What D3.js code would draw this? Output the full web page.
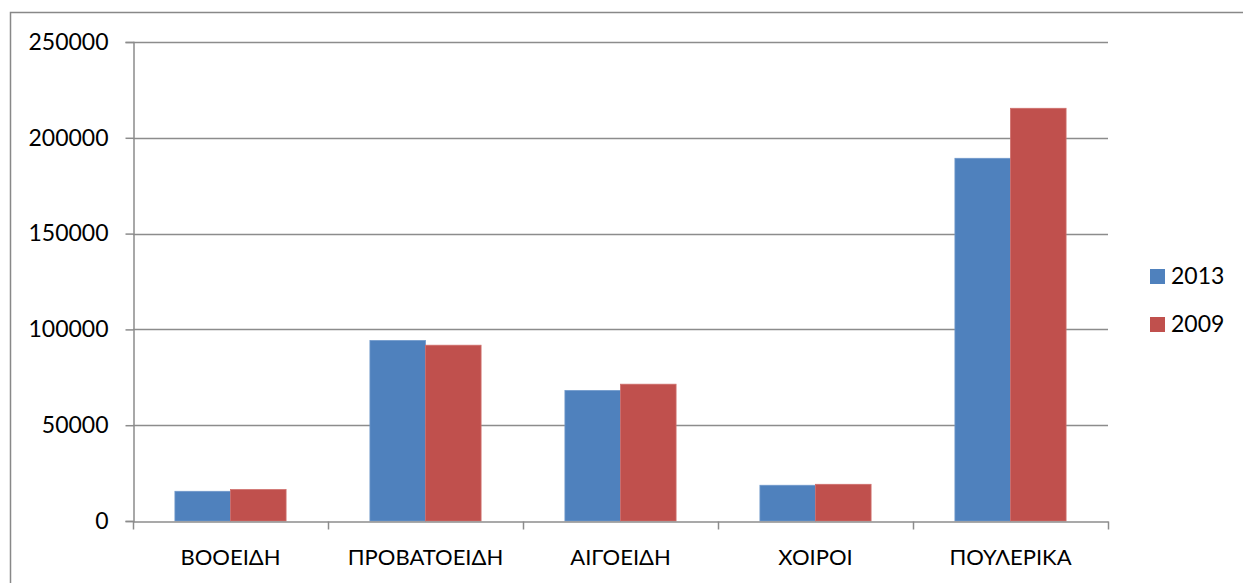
<!DOCTYPE html>
<html>
<head>
<meta charset="utf-8">
<script src="https://cdn.jsdelivr.net/npm/d3@7"></script>
<style>
    body { margin: 0; background: #fff; }
    svg { display: block; font-family: Lato, "Open Sans", sans-serif; }
</style>
</head>
<body>
<div class="main"></div>
<script>
const categories = ["ΒΟΟΕΙΔΗ", "ΠΡΟΒΑΤΟΕΙΔΗ", "ΑΙΓΟΕΙΔΗ", "ΧΟΙΡΟΙ", "ΠΟΥΛΕΡΙΚΑ"];
const seriesNames = ["2013", "2009"];
const values2013 = [15500, 94200, 68100, 18650, 189300];
const values2009 = [16400, 91750, 71400, 19150, 215400];
const yTicks = [0, 50000, 100000, 150000, 200000, 250000];

const colors = { "2013": "#4F81BD", "2009": "#C0504D" };
const strokes = { "2013": "#6f98cb", "2009": "#cf6e6b" };

const w = 1243;
const h = 583;
const plotLeft = 133, plotRight = 1108, plotTop = 42, plotBottom = 521;

const data = categories.map((c, i) => ({
    cat: c,
    "2013": values2013[i],
    "2009": values2009[i]
}));

const svg = d3.select(".main").append("svg").attr("width", w).attr("height", h);

// outer chart border (only top and left are in view)
svg.append("path")
    .attr("d", `M10.5,${h + 5} V12.5 H${w + 5}`)
    .attr("fill", "none")
    .attr("stroke", "#888")
    .attr("stroke-width", 1.5);

// scales
const xScale = d3.scaleBand()
    .domain(categories)
    .range([plotLeft, plotRight])
    .paddingInner(0.43)
    .paddingOuter(0.215);

const xInner = d3.scaleBand()
    .domain(seriesNames)
    .range([0, xScale.bandwidth()]);

const yScale = d3.scaleLinear().domain([0, 250000]).range([plotBottom, plotTop]);

// gridlines
svg.append("g")
    .selectAll("line")
    .data(yTicks.slice(1))
    .enter()
    .append("line")
    .attr("x1", plotLeft)
    .attr("x2", plotRight)
    .attr("y1", (d) => Math.round(yScale(d)) + 0.5)
    .attr("y2", (d) => Math.round(yScale(d)) + 0.5)
    .attr("stroke", "#8c8c8c")
    .attr("stroke-width", 1.5);

// y axis
const yAxis = d3.axisLeft(yScale)
    .tickValues(yTicks)
    .tickSize(8)
    .tickPadding(17)
    .tickFormat(d3.format("d"));

const yG = svg.append("g")
    .attr("transform", `translate(${plotLeft + 0.5},0)`)
    .call(yAxis);
yG.selectAll("line").attr("stroke", "#8c8c8c").attr("stroke-width", 1.5);
yG.select(".domain").attr("stroke", "#8c8c8c").attr("stroke-width", 1.5);
yG.selectAll("text").attr("fill", "#000").style("font-size", "23px").style("font-family", "Lato, 'Open Sans', sans-serif");

// bars
const groups = svg.append("g")
    .selectAll("g")
    .data(data)
    .enter()
    .append("g")
    .attr("transform", (d) => `translate(${xScale(d.cat)},0)`);

groups.selectAll("rect")
    .data((d) => seriesNames.map((s) => ({ key: s, value: d[s] })))
    .enter()
    .append("rect")
    .attr("x", (d) => xInner(d.key))
    .attr("width", xInner.bandwidth())
    .attr("y", (d) => yScale(d.value))
    .attr("height", (d) => plotBottom - yScale(d.value))
    .attr("fill", (d) => colors[d.key])
    .attr("stroke", (d) => strokes[d.key])
    .attr("stroke-width", 0.8);

// x axis
const xAxis = d3.axisBottom(xScale).tickSize(0).tickPadding(28);
const xG = svg.append("g")
    .attr("transform", `translate(0,${plotBottom + 0.5})`)
    .call(xAxis);
xG.select(".domain").attr("stroke", "#8c8c8c").attr("stroke-width", 1.5);
xG.selectAll("text").attr("fill", "#000").style("font-size", "22px").style("font-family", "Lato, 'Open Sans', sans-serif");

// category boundary ticks
const step = xScale.step();
xG.append("g")
    .selectAll("line")
    .data(d3.range(categories.length + 1))
    .enter()
    .append("line")
    .attr("x1", (i) => plotLeft + i * step + 0.5)
    .attr("x2", (i) => plotLeft + i * step + 0.5)
    .attr("y1", 0)
    .attr("y2", 8)
    .attr("stroke", "#8c8c8c")
    .attr("stroke-width", 1.5);

// legend
const legend = svg.append("g").attr("transform", "translate(1150,269)");
const items = legend.selectAll("g")
    .data(seriesNames)
    .enter()
    .append("g")
    .attr("transform", (d, i) => `translate(0,${i * 48})`);
items.append("rect")
    .attr("width", 15)
    .attr("height", 15)
    .attr("fill", (d) => colors[d]);
items.append("text")
    .attr("x", 21)
    .attr("y", 14.5)
    .attr("font-size", "23px")
    .text((d) => d);
</script>
</body>
</html>
